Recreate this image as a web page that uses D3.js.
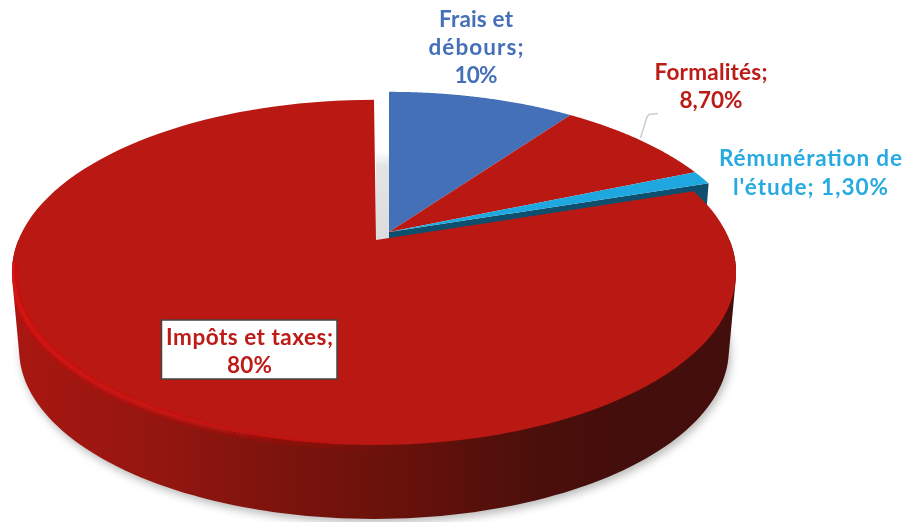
<!DOCTYPE html>
<html><head><meta charset="utf-8">
<script src="https://cdn.jsdelivr.net/npm/d3@7/dist/d3.min.js"></script>
<style>html,body{margin:0;padding:0;background:#fff}svg{display:block}</style></head>
<body><script>
const categories = ["Frais et débours", "Formalités", "Rémunération de l'étude", "Impôts et taxes"];
const values = [10, 8.7, 1.3, 80];
const sliceColors = ["#4470b8", "#b91813", "#1fa8df", "#b91813"];
const labelLines = [["Frais et","débours;","10%"],["Formalités;","8,70%"],["Rémunération de","l'étude; 1,30%"],["Impôts et taxes;","80%"]];
const labelColors = ["#4470b8", "#bd1a17", "#27aae1", "#bd1a17"];

const W = 903, H = 522;
const svg = d3.select("body").append("svg").attr("width", W).attr("height", H);
const defs = svg.append("defs");

// perspective projection of the pie disc
const cam = {x0: 376, y0: 240, R: 355.6, H: 166.5, k: 0.188, depth: 78, shrink: 0.98};
const off = {dx: 13, dy: -8};     // explosion of the three small slices
const mainOff = {dx: -2, dy: 0};  // rim of the main slice
function proj(t, o, low = false) {
  const u = Math.sin(t), v = -Math.cos(t), w = 1 - cam.k * v, f = low ? cam.shrink : 1;
  return [cam.x0 + o.dx + f * cam.R * u / w, cam.y0 + o.dy + (low ? cam.depth : 0) + f * cam.H * v / w];
}
const line = d3.line();
const samples = (a, b) => d3.range(0, 121).map(i => a + (b - a) * i / 120);
const apexMain = [cam.x0, cam.y0];
const apexSmall = [cam.x0 + off.dx, cam.y0 + off.dy];

const arcs = d3.pie().sort(null).value(d => d)(values);
const main = arcs[3], small = arcs.slice(0, 3);

function blur(id, s) {
  defs.append("filter").attr("id", id).attr("x","-20%").attr("y","-20%").attr("width","140%").attr("height","140%")
    .append("feGaussianBlur").attr("stdDeviation", s);
}
blur("soft", 4); blur("rim", 2); blur("txt", 0.4);

const wallG = defs.append("linearGradient").attr("id","wall").attr("gradientUnits","userSpaceOnUse")
  .attr("x1",12).attr("x2",736).attr("y1",0).attr("y2",0);
[[0,"#aa1711"],[0.2,"#941610"],[0.4,"#78130c"],[0.55,"#66110b"],[0.72,"#4c0f0b"],[0.85,"#430e0c"],[1,"#430e0c"]]
  .forEach(s => wallG.append("stop").attr("offset",s[0]).attr("stop-color",s[1]));
const gapG = defs.append("linearGradient").attr("id","gap").attr("x1",0).attr("x2",0).attr("y1",0).attr("y2",1);
[[0,"#ffffff"],[0.37,"#ffffff"],[0.47,"#e4e4e4"],[1,"#dcdcdc"]]
  .forEach(s => gapG.append("stop").attr("offset",s[0]).attr("stop-color",s[1]));
const rimG = defs.append("linearGradient").attr("id","rimG").attr("gradientUnits","userSpaceOnUse")
  .attr("x1",12).attr("x2",400).attr("y1",0).attr("y2",0);
[[0,"#e40c0e",0.9],[0.45,"#e40c0e",0.65],[1,"#d01512",0]]
  .forEach(s => rimG.append("stop").attr("offset",s[0]).attr("stop-color",s[1]).attr("stop-opacity",s[2]));

// hull of the front half of the disc: top and bottom outlines
const wallRange = samples(Math.PI * 0.5, Math.PI * 1.5);
const hull = d3.polygonHull([...wallRange.map(t => proj(t, mainOff)), ...wallRange.map(t => proj(t, mainOff, true))]);
defs.append("clipPath").attr("id","bodyClip").append("path").attr("d", line(hull) + "Z");

// ground shadow
svg.append("path").attr("filter","url(#soft)").attr("fill","#8c8c8c").attr("opacity",0.6)
  .attr("transform","translate(2,4)")
  .attr("d", line(samples(Math.PI*0.5, Math.PI*1.5).map(t => proj(t, mainOff, true))) + "Z");

// gap between the exploded parts
const mainStartTop = proj(main.endAngle, mainOff);
svg.append("rect").attr("x", apexMain[0]).attr("y", mainStartTop[1])
  .attr("width", off.dx).attr("height", apexMain[1] - mainStartTop[1])
  .attr("fill","url(#gap)");

// cut face and outer wall of the small group
const edge = small[2].endAngle;
svg.append("path").attr("fill","#0e4f6d")
  .attr("d", line([apexSmall, proj(edge, off), proj(edge, off, true), [apexSmall[0], apexSmall[1] + cam.depth]]) + "Z");

// small slices, top faces
svg.selectAll("path.small").data(small).join("path").attr("class","small")
  .attr("fill", (d,i) => sliceColors[i])
  .attr("d", d => line([apexSmall, ...samples(d.startAngle, d.endAngle).map(t => proj(t, off))]) + "Z");

// main slice: wall then top
svg.append("path").attr("fill","url(#wall)").attr("d", line(hull) + "Z");
const topPath = line([apexMain, ...samples(main.startAngle, main.endAngle).map(t => proj(t, mainOff))]) + "Z";
svg.append("path").attr("fill", sliceColors[3]).attr("d", topPath);
// bright rim
svg.append("g").attr("clip-path","url(#bodyClip)").append("path").attr("fill","none").attr("stroke","url(#rimG)")
  .attr("stroke-width",4.5).attr("filter","url(#rim)")
  .attr("d", line(samples(Math.PI*0.97, Math.PI*1.46).map(t => { const p = proj(t, mainOff); return [p[0]+1, p[1]+1]; })));

// leader line
svg.append("path").attr("fill","none").attr("stroke","#cfcfcf").attr("stroke-width",1.6)
  .attr("d", line(d3.zip([640.5,647,649,658],[138,117,114.5,113.5])));

// label box
svg.append("rect").attr("x",161.5).attr("y",320).attr("width",175.5).attr("height",59)
  .attr("fill","#fff").attr("stroke","#444").attr("stroke-width",1.5);

const labelPos = [[476,[27,55,83]],[711,[80,108]],[810.5,[166,195]],[249.5,[345,373]]];
const labelWidths = [[74,95,43],[113,63],[183,155],[167,45]];
const labelG = svg.append("g").attr("filter","url(#txt)")
  .attr("font-family","Lato, 'Open Sans', sans-serif").attr("font-weight",700).attr("font-size",22.5).attr("text-anchor","middle");
labelLines.forEach((lines,i) => lines.forEach((txt,j) => {
  labelG.append("text").attr("x",labelPos[i][0]).attr("y",labelPos[i][1][j]).attr("fill",labelColors[i])
    .attr("textLength",labelWidths[i][j]).attr("lengthAdjust","spacing").text(txt);
}));
</script></body></html>
